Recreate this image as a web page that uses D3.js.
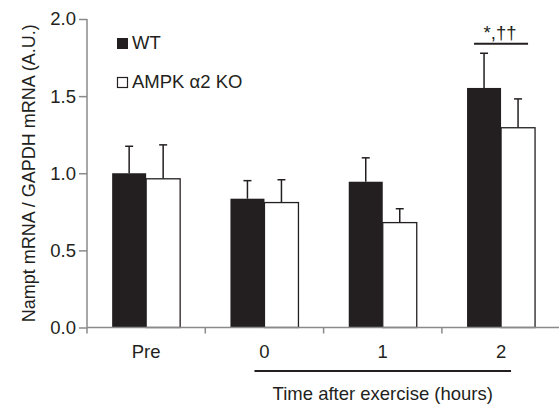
<!DOCTYPE html>
<html>
<head>
<meta charset="utf-8">
<script src="https://cdn.jsdelivr.net/npm/d3@7"></script>
<style>
  body { margin: 0; background: #fff; }
  svg text { font-family: "Liberation Sans", Arial, sans-serif; fill: #231f20; }
</style>
</head>
<body>
<div id="chart"></div>
<script>
const categories = ["Pre", "0", "1", "2"];
const groups = ["WT", "AMPK α2 KO"];
const wtMean = [1.0, 0.835, 0.945, 1.553];
const wtErr = [0.175, 0.117, 0.155, 0.225];
const koMean = [0.964, 0.81, 0.68, 1.295];
const koErr = [0.22, 0.148, 0.09, 0.187];
const yTicks = [0, 0.5, 1.0, 1.5, 2.0];

const width = 559, height = 404;
const margin = { top: 19, right: 0, bottom: 76, left: 87 };
const fs = "18.5px";

const svg = d3.select("#chart").append("svg")
  .attr("width", width)
  .attr("height", height);

const x = d3.scaleBand()
  .domain(categories)
  .range([margin.left, margin.left + 118.3 * 4]);

const inner = d3.scaleBand()
  .domain(groups)
  .range([0, 68])
  .paddingInner(0);

const y = d3.scaleLinear()
  .domain([0, 2])
  .range([height - margin.bottom - 0.5, margin.top]);

const data = [];
categories.forEach((c, i) => {
  data.push({ cat: c, group: groups[0], mean: wtMean[i], err: wtErr[i] });
  data.push({ cat: c, group: groups[1], mean: koMean[i], err: koErr[i] });
});

const barX = (d) => x(d.cat) + (x.bandwidth() - 68) / 2 + inner(d.group);

// error bars (drawn first, bars cover lower half)
const eb = svg.append("g").attr("stroke", "#231f20").attr("stroke-width", 1.5);
eb.selectAll("line.v").data(data).join("line")
  .attr("x1", (d) => barX(d) + inner.bandwidth() / 2)
  .attr("x2", (d) => barX(d) + inner.bandwidth() / 2)
  .attr("y1", (d) => y(d.mean))
  .attr("y2", (d) => y(d.mean + d.err));
eb.selectAll("line.cap").data(data).join("line")
  .attr("x1", (d) => barX(d) + inner.bandwidth() / 2 - 4)
  .attr("x2", (d) => barX(d) + inner.bandwidth() / 2 + 4)
  .attr("y1", (d) => y(d.mean + d.err))
  .attr("y2", (d) => y(d.mean + d.err));

// bars
svg.append("g").selectAll("rect").data(data).join("rect")
  .attr("x", barX)
  .attr("y", (d) => y(d.mean))
  .attr("width", inner.bandwidth())
  .attr("height", (d) => y(0) - y(d.mean))
  .attr("fill", (d) => d.group === groups[0] ? "#231f20" : "#fff")
  .attr("stroke", (d) => d.group === groups[0] ? "none" : "#231f20")
  .attr("stroke-width", 1.3);

// y axis
const yAxis = svg.append("g")
  .attr("transform", `translate(${margin.left},0)`)
  .call(d3.axisLeft(y).tickValues(yTicks).tickFormat(d3.format(".1f")).tickSize(8).tickPadding(3));
yAxis.select(".domain").attr("stroke", "#8a8a8a").attr("stroke-width", 1.5).attr("d", `M0,${y(2)}V${y(0)}`);
yAxis.selectAll(".tick line").attr("stroke", "#8a8a8a").attr("stroke-width", 1.5);
yAxis.selectAll(".tick text").style("font-size", fs).attr("fill", "#231f20")
  .style("font-family", "'Liberation Sans', Arial, sans-serif");

// x axis
const xAxis = svg.append("g")
  .attr("transform", `translate(0,${y(0)})`)
  .call(d3.axisBottom(x).tickSize(0).tickPadding(17));
xAxis.select(".domain").attr("stroke", "#8a8a8a").attr("stroke-width", 1.5)
  .attr("d", `M${margin.left},0H${width}`);
xAxis.selectAll(".tick text").style("font-size", fs).attr("fill", "#231f20")
  .style("font-family", "'Liberation Sans', Arial, sans-serif");
xAxis.selectAll("line.sep").data(categories).join("line")
  .attr("class", "sep")
  .attr("x1", (d) => x(d)).attr("x2", (d) => x(d))
  .attr("y1", 0).attr("y2", 6)
  .attr("stroke", "#8a8a8a").attr("stroke-width", 1.5);

// y label
svg.append("text")
  .attr("transform", `translate(35,${(y(0) + y(2)) / 2}) rotate(-90)`)
  .attr("text-anchor", "middle")
  .style("font-size", "18px")
  .text("Nampt mRNA / GAPDH mRNA (A.U.)");

// bracket under time points
const timeCats = categories.slice(1);
const bx0 = x(timeCats[0]) + x.bandwidth() / 2 - 10;
const bx1 = x(timeCats[timeCats.length - 1]) + x.bandwidth() / 2 + 10;
svg.append("line")
  .attr("x1", bx0).attr("x2", bx1)
  .attr("y1", 371).attr("y2", 371)
  .attr("stroke", "#231f20").attr("stroke-width", 2);
svg.append("text")
  .attr("x", (bx0 + bx1) / 2)
  .attr("y", 400)
  .attr("text-anchor", "middle")
  .style("font-size", fs)
  .text("Time after exercise (hours)");

// significance marker over 2 h
const sx = x("2") + x.bandwidth() / 2;
svg.append("line")
  .attr("x1", sx - 27).attr("x2", sx + 27)
  .attr("y1", y(1.84)).attr("y2", y(1.84))
  .attr("stroke", "#231f20").attr("stroke-width", 2);
svg.append("text")
  .attr("x", sx - 1)
  .attr("y", y(1.84) - 5)
  .attr("text-anchor", "middle")
  .style("font-size", fs)
  .text("*,††");

// legend
const legend = svg.append("g").attr("transform", "translate(117,38)");
groups.forEach((g, i) => {
  const row = legend.append("g").attr("transform", `translate(0,${i * 39})`);
  row.append("rect")
    .attr("x", i === 0 ? 0 : 0.5).attr("y", i === 0 ? 0 : 0.5)
    .attr("width", i === 0 ? 11 : 10).attr("height", i === 0 ? 11 : 10)
    .attr("fill", i === 0 ? "#231f20" : "#fff")
    .attr("stroke", i === 0 ? "none" : "#231f20")
    .attr("stroke-width", 1.2);
  row.append("text")
    .attr("x", 15).attr("y", 10.5)
    .style("font-size", fs)
    .text(g);
});
</script>
</body>
</html>
